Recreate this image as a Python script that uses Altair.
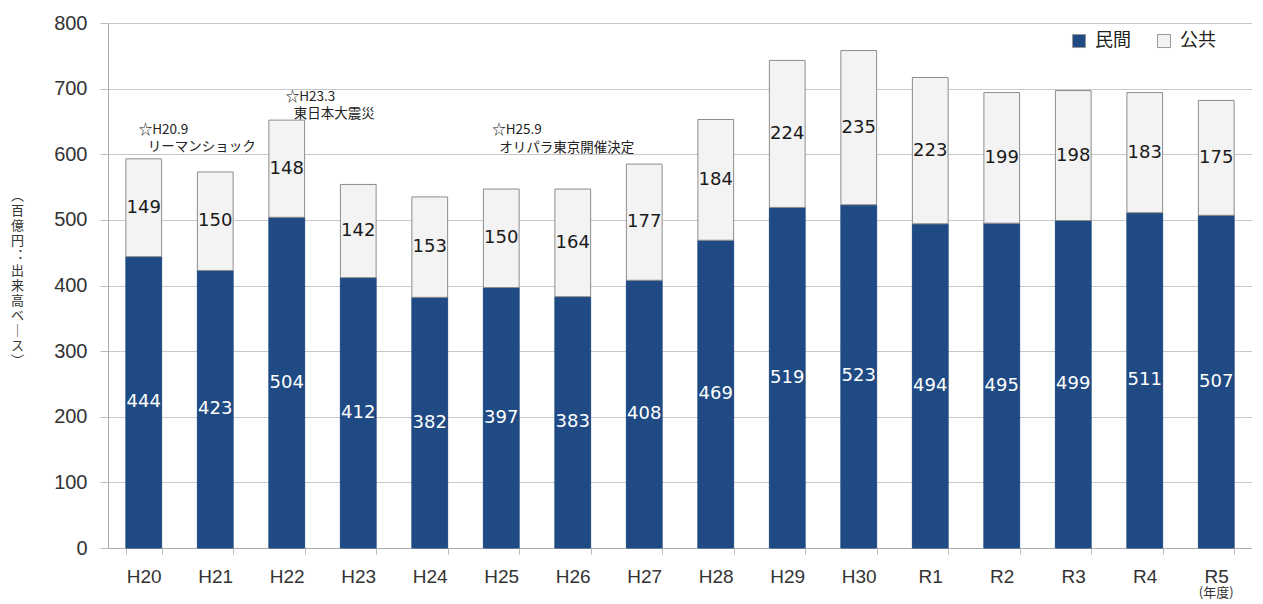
import altair as alt
import pandas as pd

years = ["H20","H21","H22","H23","H24","H25","H26","H27","H28","H29","H30","R1","R2","R3","R4","R5"]
private = [444,423,504,412,382,397,383,408,469,519,523,494,495,499,511,507]
public = [149,150,148,142,153,150,164,177,184,224,235,223,199,198,183,175]

ann_year = ["H20","H20","H22","H22","H25","H25"]
ann_value = [637,611,687,661,637,610]
ann_text = ["☆H20.9","リーマンショック","☆H23.3","東日本大震災","☆H25.9","オリパラ東京開催決定"]
ann_dx = [-5,4,-1,7,-9,-2]

df = pd.DataFrame({"year": years, "private": private, "public": public})
df["total"] = df["private"] + df["public"]
df["pmid"] = df["private"] / 2
df["umid"] = df["private"] + df["public"] / 2
df["s1"] = "民間"
df["s2"] = "公共"

W, H = 1144, 525
half_band = W / 16 * 0.25
ann = pd.DataFrame({"year": ann_year, "v": ann_value, "t": ann_text,
                    "dx": [d + half_band for d in ann_dx]})

xenc = alt.X("year:N", sort=years, title=None,
             scale=alt.Scale(paddingInner=0.5, paddingOuter=0.25),
             axis=alt.Axis(labelFont="Liberation Sans", labelFontSize=19, labelColor="#333",
                           labelAngle=0, labelPadding=13, tickBand="extent", tickColor="#bbb",
                           tickSize=6, domainColor="#aaa", grid=False))
yscale = alt.Scale(domain=[0, 800])
ychars = ["︵","百","億","円","︓","出","来","高","ベ","｜","ス","︶"]
yaxis = alt.Axis(values=list(range(0, 801, 100)), labelFont="Liberation Sans", labelFontSize=20,
                 labelColor="#333", labelPadding=13, tickColor="#bbb", tickSize=8,
                 domainColor="#aaa", gridColor="#c8c8c8", title=ychars, titleAngle=0,
                 titleFont="Noto Sans CJK JP", titleFontSize=13, titleFontWeight="normal",
                 titleColor="#333", titleLineHeight=15, titleX=-91, titleY=166,
                 titleBaseline="top", titleAlign="center")

leg = alt.Legend(title=None, orient="none", legendX=962, legendY=9,
                 direction="horizontal", symbolType="square", symbolSize=170,
                 symbolStrokeColor="#999", symbolStrokeWidth=1,
                 labelFont="Noto Sans CJK JP", labelFontSize=18, labelColor="#222",
                 columnPadding=24, labelOffset=7)
cscale = alt.Scale(domain=["民間","公共"], range=["#1f4a83","#f3f3f3"])

base = alt.Chart(df)
priv = base.mark_bar(stroke="#1f4a83", strokeWidth=1).encode(
    x=xenc, y=alt.Y("private:Q", scale=yscale, axis=yaxis), y2=alt.datum(0),
    color=alt.Color("s1:N", scale=cscale, legend=leg))
pub = base.mark_bar(stroke="#8c8c8c", strokeWidth=1).encode(
    x=alt.X("year:N", sort=years), y="total:Q", y2="private:Q",
    color=alt.Color("s2:N", scale=cscale, legend=leg))
plab = base.mark_text(color="white", font="DejaVu Sans", fontSize=18).encode(
    x=alt.X("year:N", sort=years), y="pmid:Q", text="private:Q")
ulab = base.mark_text(color="#1a1a1a", font="DejaVu Sans", fontSize=18).encode(
    x=alt.X("year:N", sort=years), y="umid:Q", text="public:Q")
annot = alt.Chart(ann).mark_text(align="left", font="Noto Sans CJK JP", fontSize=13.5,
                                 color="#222").encode(
    x=alt.X("year:N", sort=years), y="v:Q", text="t:N", xOffset=alt.XOffset("dx:Q", scale=None))
nendo = alt.Chart(pd.DataFrame({"year": ["R5"], "t": ["(年度)"]})).mark_text(
    font="Noto Sans CJK JP", fontSize=13, color="#333", dy=45).encode(
    x=alt.X("year:N", sort=years), y=alt.datum(0), text="t:N")

chart = alt.layer(priv, pub, plab, ulab, annot, nendo).properties(
    width=W, height=H, padding={"left": 2, "right": 0, "top": 5, "bottom": 0}
).configure_view(stroke=None).configure(background="white")

chart.save("out.html", embed_options={"renderer": "svg", "actions": False})
